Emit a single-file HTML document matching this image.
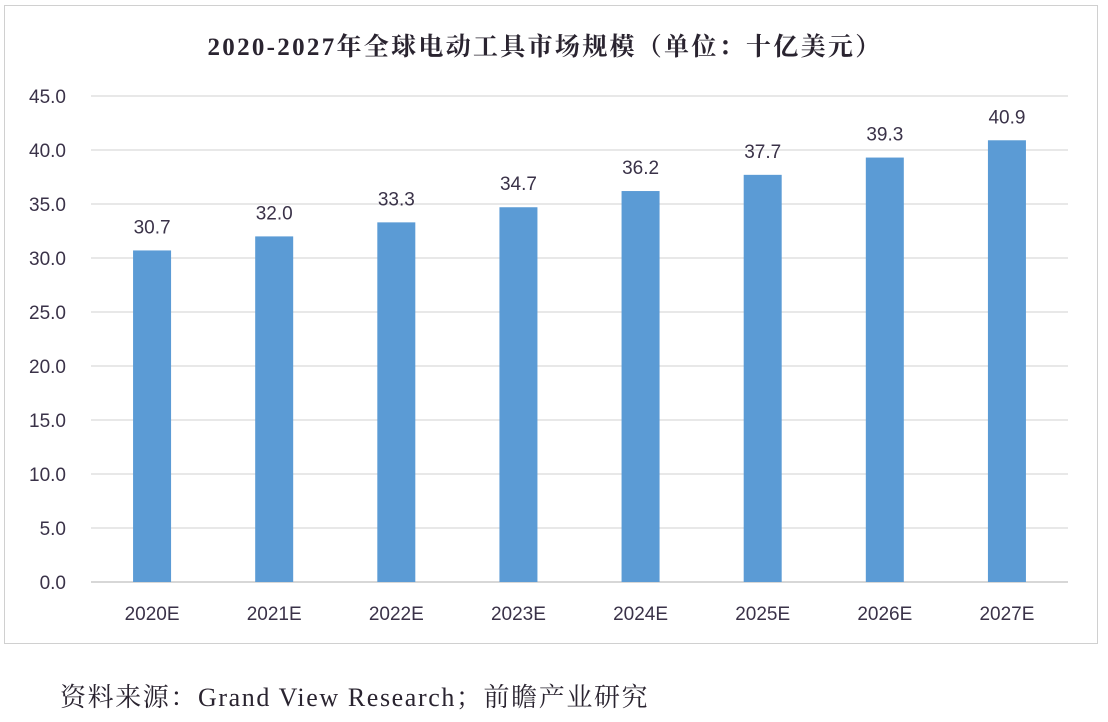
<!DOCTYPE html>
<html><head><meta charset="utf-8"><style>
body{margin:0;width:1108px;height:722px;background:#fff;overflow:hidden}
svg{display:block}
</style></head><body>
<svg id="chart" width="1108" height="722">
<rect x="4.5" y="5.5" width="1093" height="638" fill="#fff" stroke="#d0d0d0"/>
<text x="545" y="55" text-anchor="middle" font-family="'Liberation Serif','Noto Serif CJK SC',serif" font-weight="bold" font-size="25" letter-spacing="2.3" fill="#2a2430">2020-2027年全球电动工具市场规模（单位：十亿美元）</text>
<g id="grid"></g><g id="bars"></g>
<text x="60" y="706" font-family="'Liberation Serif','Noto Serif CJK SC',serif" font-size="26" letter-spacing="1.6" fill="#2a2430">资料来源：Grand View Research；前瞻产业研究</text>
</svg>
<script>
const categories=["2020E","2021E","2022E","2023E","2024E","2025E","2026E","2027E"];
const values=[30.7,32.0,33.3,34.7,36.2,37.7,39.3,40.9];
const yTicks=[0,5,10,15,20,25,30,35,40,45];
const NS="http://www.w3.org/2000/svg";
const x0=91,x1=1068,y0=582,yTop=96,yMax=45;
const y=v=>y0-(v/yMax)*(y0-yTop);
const bw=(x1-x0)/categories.length;
const xc=i=>x0+bw*(i+0.5);
function mk(tag,attrs,parent,text){const e=document.createElementNS(NS,tag);for(const k in attrs)e.setAttribute(k,attrs[k]);if(text!==undefined)e.textContent=text;parent.appendChild(e);return e;}
const grid=document.getElementById('grid'),bars=document.getElementById('bars');
const font="'Liberation Sans',sans-serif";
yTicks.forEach(t=>{
 const l=mk('line',{x1:x0,x2:x1,y1:y(t),y2:y(t),stroke:t===0?'#bfbfbf':'#d9d9d9','stroke-width':1.3},grid);
 
 
 const tx=mk('text',{x:66,y:y(t)+7,'text-anchor':'end','font-family':font,'font-size':19,fill:'#3a3248'},grid,t.toFixed(1));
 
 
});
categories.forEach((c,i)=>{
 const v=values[i];
 const r=mk('rect',{x:xc(i)-19,y:y(v),width:38,height:y0-y(v),fill:'#5b9bd5'},bars);
 
 
 const lb=mk('text',{x:xc(i),y:y(v)-17,'text-anchor':'middle','font-family':font,'font-size':19,fill:'#3a3248'},bars,v.toFixed(1));
 
 
 const xl=mk('text',{x:xc(i),y:620,'text-anchor':'middle','font-family':font,'font-size':19,fill:'#3a3248'},bars,c);
 
 
});
</script>
</body></html>
